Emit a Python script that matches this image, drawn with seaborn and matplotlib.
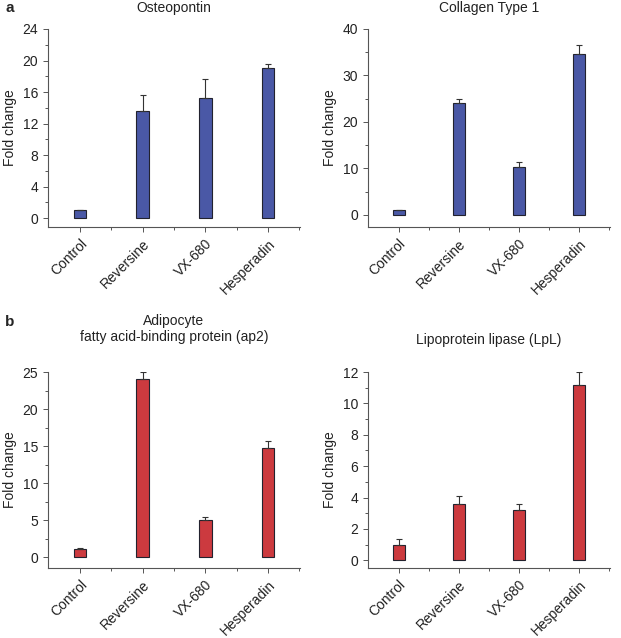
import numpy as np
import pandas as pd
import seaborn as sns
import matplotlib.pyplot as plt
from matplotlib.ticker import MultipleLocator, FixedLocator

sns.set_style("white")
plt.rcParams['font.family'] = ['Liberation Sans', 'DejaVu Sans']

treatments = ["Control", "Reversine", "VX-680", "Hesperadin"]

osteopontin = [1.0, 13.6, 15.2, 19.1]
osteopontin_err = [0.08, 2.0, 2.5, 0.5]

collagen = [1.0, 24.0, 10.3, 34.6]
collagen_err = [0.1, 1.0, 1.0, 2.0]

ap2 = [1.05, 24.0, 5.0, 14.7]
ap2_err = [0.15, 1.0, 0.35, 1.0]

lpl = [1.0, 3.62, 3.2, 11.2]
lpl_err = [0.33, 0.47, 0.38, 0.8]

blue = "#4a58a6"
red = "#cc3a3f"

# title, values, errors, colour, ylim, major step, minor step, title pad
panels = [
    ("Osteopontin", osteopontin, osteopontin_err, blue, (-1.14, 24), 4, 2, 12),
    ("Collagen Type 1", collagen, collagen_err, blue, (-2.6, 40), 10, 5, 12),
    ("Adipocyte\nfatty acid-binding protein (ap2)", ap2, ap2_err, red, (-1.48, 25), 5, 2.5, 22),
    ("Lipoprotein lipase (LpL)", lpl, lpl_err, red, (-0.49, 12), 2, 1, 20),
]

fig = plt.figure(figsize=(6.21, 6.38), dpi=100)
W, H = 621, 638
boxes = [(48, 29, 300, 227), (368, 29, 610, 227), (48, 372, 300, 568), (368, 372, 610, 568)]

for (title, vals, errs, color, ylim, major, minor, pad), (x0, y0, x1, y1) in zip(panels, boxes):
    ax = fig.add_axes([x0 / W, 1 - y1 / H, (x1 - x0) / W, (y1 - y0) / H])
    df = pd.DataFrame({"treatment": treatments, "fold": vals})
    sns.barplot(data=df, x="treatment", y="fold", color=color, width=0.2,
                edgecolor="#22222e", linewidth=0.8, saturation=1, ax=ax)
    pos = np.arange(len(treatments))
    ax.errorbar(pos, vals, yerr=[np.zeros(len(errs)), errs], fmt="none",
                ecolor="#333333", elinewidth=0.8, capsize=2.5, capthick=0.8)
    ax.set_xlim(-0.51, 3.51)
    ax.set_ylim(*ylim)
    ax.yaxis.set_major_locator(MultipleLocator(major))
    ax.yaxis.set_minor_locator(MultipleLocator(minor))
    ax.xaxis.set_minor_locator(FixedLocator([0.5, 1.5, 2.5, 3.5]))
    for s in ["top", "right"]:
        ax.spines[s].set_visible(False)
    for s in ["left", "bottom"]:
        ax.spines[s].set_color("#555555")
        ax.spines[s].set_linewidth(0.8)
    ax.tick_params(axis="both", which="both", direction="out", colors="#555555",
                   labelcolor="#222222", width=0.7, bottom=True, left=True)
    ax.tick_params(axis="both", which="major", length=3.5)
    ax.tick_params(axis="both", which="minor", length=2.5)
    ax.tick_params(axis="y", labelsize=10)
    ax.tick_params(axis="x", labelsize=10)
    plt.setp(ax.get_xticklabels(), rotation=45, ha="right", rotation_mode="anchor")
    ax.set_xlabel("")
    ax.set_ylabel("Fold change", fontsize=10, color="#222222")
    ax.set_title(title, fontsize=10, color="#222222", pad=pad)

fig.text(5 / W, 1 - 8 / H, "a", fontsize=11, fontweight="bold", va="center")
fig.text(5 / W, 1 - 322 / H, "b", fontsize=11, fontweight="bold", va="center")

fig.savefig("out.png", dpi=100)
